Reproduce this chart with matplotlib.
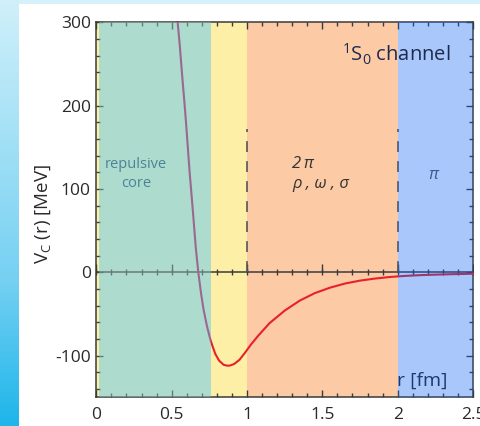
import numpy as np
import matplotlib
matplotlib.use("Agg")
import matplotlib.pyplot as plt
from matplotlib.colors import LinearSegmentedColormap
from matplotlib.patches import Rectangle

plt.rcParams['font.family'] = ['Open Sans', 'DejaVu Sans']
plt.rcParams['mathtext.fontset'] = 'custom'
plt.rcParams['mathtext.rm'] = 'Open Sans'
plt.rcParams['mathtext.it'] = 'Open Sans:italic'
plt.rcParams['mathtext.sf'] = 'Open Sans'

# ---- data ----
r_fm = [0.54, 0.555, 0.568, 0.582, 0.595, 0.607, 0.619, 0.633, 0.646, 0.66,
        0.677, 0.695, 0.712, 0.735, 0.756, 0.77, 0.79, 0.815, 0.845, 0.867,
        0.885, 0.915, 0.95, 0.985, 1.025, 1.075, 1.15, 1.25, 1.35, 1.45,
        1.55, 1.65, 1.75, 1.85, 1.95, 2.05, 2.15, 2.25, 2.35, 2.45, 2.5]
V_mev = [300, 270, 240, 210, 181, 151, 121, 91, 62, 30,
         0, -25, -45, -65, -80, -88, -98, -106, -111, -112,
         -112, -110, -105, -97, -87, -76, -61, -46, -34, -25,
         -18.5, -13.5, -10, -7.5, -5.6, -4.3, -3.4, -2.8, -2.3, -1.9, -1.7]

region_edges = [0.0, 0.763, 1.0, 2.0, 2.5]
x_ticks = [0, 0.5, 1, 1.5, 2, 2.5]
x_ticklabels = ['0', '0.5', '1', '1.5', '2', '2.5']
y_ticks = [-100, 0, 100, 200, 300]
y_ticklabels = ['-100', '0', '100', '200', '300']

W, H = 481, 426
fig = plt.figure(figsize=(W / 100, H / 100), dpi=100)
fig.patch.set_facecolor('white')

# decorative background: left gradient strip and top strip
cmap_bg = LinearSegmentedColormap.from_list(
    'bg', [(0.0, (208/255, 240/255, 250/255)),
           (0.66, (117/255, 208/255, 242/255)),
           (1.0, (29/255, 181/255, 234/255))])
axg = fig.add_axes([0, 0, 19 / W, 1])
axg.imshow(np.linspace(0, 1, 256).reshape(-1, 1), aspect='auto', cmap=cmap_bg)
axg.axis('off')
axt = fig.add_axes([19 / W, 1 - 4 / H, 1 - 19 / W, 4 / H])
axt.set_facecolor((214/255, 241/255, 251/255))
axt.set_xticks([]); axt.set_yticks([])
for s in axt.spines.values():
    s.set_visible(False)

left, right, top, bottom = 96.3, 473, 22.3, 397.3
ax = fig.add_axes([left / W, (H - bottom) / H, (right - left) / W, (bottom - top) / H])
ax.set_xlim(0, 2.5)
ax.set_ylim(-150, 300)

yellow = '#fdf0a6'
teal = '#addcce'
orange = '#fccaa5'
blue_ov = (11/255, 97/255, 243/255)

ax.axvspan(region_edges[0], region_edges[2], color=yellow, lw=0, zorder=0)
ax.axvspan(0.018, region_edges[1], color=teal, lw=0, zorder=0.1)
ax.axvspan(region_edges[2], region_edges[3], color=orange, lw=0, zorder=0)

# zero line with ticks
dark = '#3a3a3a'
ax.axhline(0, color=dark, lw=1.1, zorder=2)
minor_x = np.round(np.arange(0, 2.51, 0.1), 2)
ax.plot(minor_x, np.zeros_like(minor_x), ls='none', marker='|', ms=4.5, mew=1.0,
        color=dark, zorder=2)
ax.plot(x_ticks, np.zeros(len(x_ticks)), ls='none', marker=2, ms=5.5, mew=1.0,
        color=dark, zorder=2)

# dashed boundary lines
ax.plot([1, 1], [0, 172], color='#555555', lw=1.2, ls=(0, (6.5, 5.5)), zorder=2)
ax.plot([2, 2], [0, 172], color='#555555', lw=1.2, ls=(0, (6.5, 5.5)), zorder=2)

# curve: red outside the core, mauve inside the repulsive-core band
red_line, = ax.plot(r_fm, V_mev, color='#e8202a', lw=1.5, zorder=3,
                    solid_joinstyle='round')
red_line.set_clip_path(Rectangle((region_edges[1], -200), 5, 600, transform=ax.transData))
mauve_line, = ax.plot(r_fm, V_mev, color='#8f1c69', lw=1.5, zorder=3.1)
mauve_line.set_clip_path(Rectangle((0, -200), region_edges[1], 600, transform=ax.transData))

# overlays (tint lines)
ax.axvspan(0.018, region_edges[1], color=teal, alpha=0.4, lw=0, zorder=6)
ax.axvspan(region_edges[3], region_edges[4], color=blue_ov, alpha=0.35, lw=0, zorder=6)

# axes styling
for s in ax.spines.values():
    s.set_color(dark)
    s.set_linewidth(1.1)
ax.set_xticks(x_ticks)
ax.set_xticklabels(x_ticklabels)
ax.set_yticks(y_ticks)
ax.set_yticklabels(y_ticklabels)
ax.set_xticks(minor_x, minor=True)
ax.set_yticks(np.arange(-140, 301, 20), minor=True)
ax.tick_params(which='both', direction='in', top=True, right=True, color=dark,
               labelsize=12.5, labelcolor='#2a2a2a')
ax.tick_params(which='major', length=5, width=1.0, pad=7)
ax.tick_params(which='minor', length=2.8, width=1.0)
ax.tick_params(axis='y', which='major', pad=4)

ax.set_ylabel('V$_\\mathrm{C}$ (r) [MeV]', fontsize=13.5, color='#2a2a2a')
ax.yaxis.set_label_coords(-0.115, 0.49)

# annotations
ax.text(0.264, 118, 'repulsive\ncore', ha='center', va='center', fontsize=10.5,
        color='#4d8296', linespacing=1.35, zorder=7)
ax.text(1.30, 118, '2\u2009\u03c0\n\u03c1 , \u03c9 , \u03c3', ha='left', va='center',
        fontsize=12, style='italic', color='#333333', linespacing=1.3, zorder=7,
        family=['Open Sans', 'DejaVu Sans'])
ax.text(2.24, 117, '\u03c0', ha='center', va='center', fontsize=12, style='italic',
        color='#3a5a9a', zorder=7)
ax.text(1.99, 262, '$^{1}$S$_{0}$ channel', ha='center', va='center', fontsize=14.5,
        color='#1c2a4e', zorder=7)
ax.text(2.165, -130, 'r [fm]', ha='center', va='center', fontsize=14,
        color='#1f3a6a', zorder=7)

fig.savefig('out.png', dpi=100)
